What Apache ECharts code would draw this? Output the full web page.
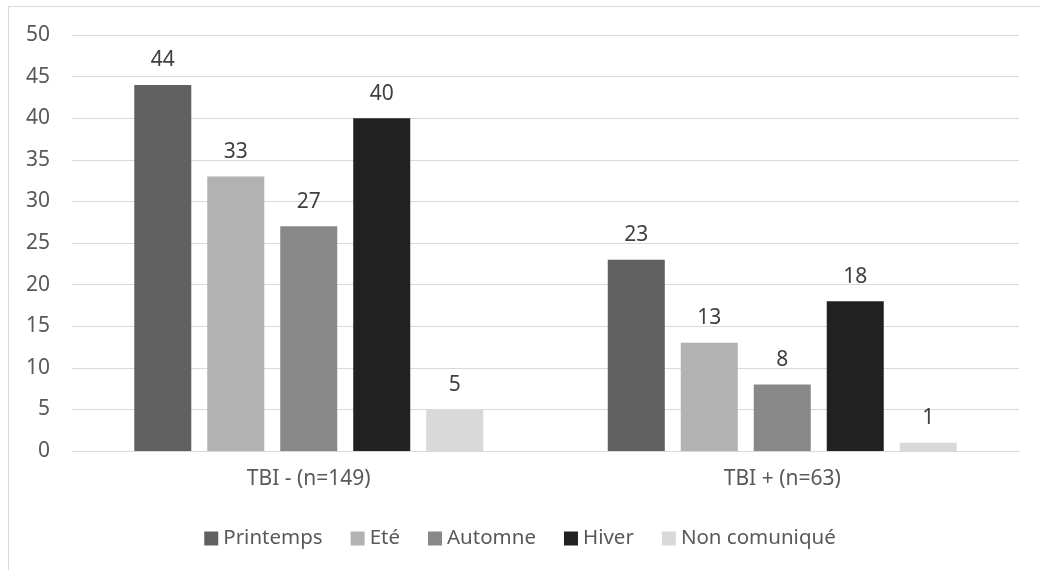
<!DOCTYPE html>
<html>
<head>
<meta charset="utf-8">
<style>
  html, body { margin: 0; padding: 0; background: #fff; }
  #chart { width: 1040px; height: 570px; }
</style>
<script src="https://cdn.jsdelivr.net/npm/echarts@6/dist/echarts.min.js"></script>
</head>
<body>
<div id="chart"></div>
<script>
// Groups on the x axis
const categories = ['TBI - (n=149)', 'TBI + (n=63)'];

// Counts per season for each group
const printemps = [44, 23];
const ete = [33, 13];
const automne = [27, 8];
const hiver = [40, 18];
const nonCommunique = [5, 1];

const seriesNames = ['Printemps', 'Eté', 'Automne', 'Hiver', 'Non comuniqué'];
const seriesValues = [printemps, ete, automne, hiver, nonCommunique];
const seriesColors = ['#606060', '#b2b2b2', '#888888', '#212121', '#d9d9d9'];

const yTicks = { min: 0, max: 50, interval: 5 };

const FONT = '"Noto Sans", sans-serif';

const chart = echarts.init(document.getElementById('chart'), null, { renderer: 'canvas' });

chart.setOption({
  backgroundColor: '#ffffff',
  animation: false,
  textStyle: { fontFamily: FONT },
  graphic: [{
    type: 'rect',
    shape: { x: 8.5, y: 6.5, width: 1040, height: 570 },
    style: { fill: 'none', stroke: '#d9d9d9', lineWidth: 1 },
    silent: true,
    z: -1
  }],
  grid: { left: 72, right: 21, top: 35, bottom: 119, containLabel: false },
  legend: {
    data: seriesNames,
    top: 523,
    left: 'center',
    itemWidth: 14,
    itemHeight: 14,
    itemGap: 28,
    icon: 'rect',
    textStyle: { color: '#595959', fontSize: 20.5, fontFamily: FONT }
  },
  xAxis: {
    type: 'category',
    data: categories,
    axisLine: { show: true, lineStyle: { color: '#d9d9d9', width: 1 } },
    axisTick: { show: false },
    axisLabel: { color: '#595959', fontSize: 21, fontFamily: FONT, margin: 18 }
  },
  yAxis: {
    type: 'value',
    min: yTicks.min,
    max: yTicks.max,
    interval: yTicks.interval,
    axisLine: { show: false },
    axisTick: { show: false },
    splitLine: { lineStyle: { color: '#d9d9d9', width: 1 } },
    axisLabel: { color: '#595959', fontSize: 21, fontFamily: FONT, margin: 22 }
  },
  series: seriesNames.map((name, i) => ({
    name: name,
    type: 'bar',
    data: seriesValues[i],
    barGap: '28%',
    barCategoryGap: '26.3%',
    itemStyle: { color: seriesColors[i] },
    label: {
      show: true,
      position: 'top',
      distance: 14,
      color: '#404040',
      fontSize: 21,
      fontFamily: FONT
    }
  }))
});
</script>
</body>
</html>
